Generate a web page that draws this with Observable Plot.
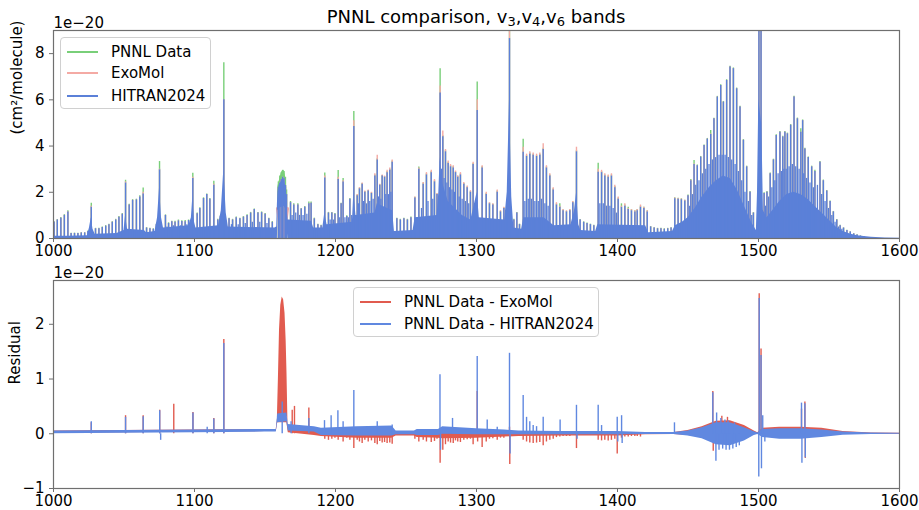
<!DOCTYPE html>
<html><head><meta charset="utf-8">
<script src="https://cdn.jsdelivr.net/npm/d3@7"></script>
<script src="https://cdn.jsdelivr.net/npm/@observablehq/plot@0.6"></script>
<style>
body{margin:0;background:#fff;font-family:"DejaVu Sans",sans-serif;}
#wrap{position:relative;width:919px;height:510px;overflow:hidden}
#wrap svg{display:block}
.title{position:absolute;left:53px;width:846px;top:6px;text-align:center;font-size:18px;color:#000;line-height:21px}
.title sub{font-size:13px;vertical-align:-3px;line-height:0}
.legend{position:absolute;background:rgba(255,255,255,0.85);border:1px solid #d0d0d0;border-radius:4px;font-size:15px;color:#000;box-sizing:border-box}
.row{position:absolute;left:0;height:22px;display:flex;align-items:center;white-space:nowrap}
.row i{display:inline-block;width:31px;height:2px;margin:0 13px 0 6px}
</style></head>
<body><div id="wrap">
<div class="title">PNNL comparison, v<sub>3</sub>,v<sub>4</sub>,v<sub>6</sub> bands</div>
</div>
<script>
// ---------- axis ticks ----------
const xTicks = [1000, 1100, 1200, 1300, 1400, 1500, 1600];
const topYTicks = [0, 2, 4, 6, 8];
const resYTicks = [-1, 0, 1, 2];

// ---------- colours ----------
const GREEN = "#79cf79", PINK = "#f4aaa4", BLUE = "#5b80d8";
const RRED = "#e15b4f", RBLUE = "#6088e0";

// ---------- top panel: strong lines (cm^-1, cross sections in 1e-20) ----------
const peakNu = [1000.4,1002.7,1005.2,1007.7,1010.2,1012.5,1014.9,1017.3,1019.7,1022.1,1024.4,1026.8,1029.8,1032.2,1034.6,1037.0,1039.3,1041.7,1044.1,1046.4,1048.8,1051.1,1053.7,1056.1,1058.8,1061.2,1063.6,1066.0,1068.4,1070.8,1073.0,1075.2,1079.4,1081.6,1083.9,1086.2,1088.6,1091.0,1093.4,1095.8,1098.8,1101.9,1103.8,1106.4,1108.7,1110.9,1113.7,1116.5,1118.4,1120.8,1124.5,1127.0,1129.6,1132.2,1134.7,1137.3,1139.8,1142.4,1145.0,1147.6,1150.1,1152.7,1155.2,1159.5,1160.5,1161.5,1162.5,1163.5,1164.5,1165.3,1168.1,1170.4,1173.3,1175.7,1178.2,1181.1,1182.7,1185.0,1187.5,1189.8,1192.4,1195.0,1197.4,1199.6,1201.9,1204.0,1205.4,1208.0,1210.2,1213.0,1215.4,1217.0,1218.9,1220.8,1223.2,1225.5,1227.9,1229.6,1231.4,1233.1,1234.8,1236.6,1238.5,1240.2,1243.5,1246.0,1248.5,1251.0,1253.5,1256.3,1259.1,1262.2,1264.5,1267.9,1270.2,1272.0,1274.2,1276.1,1278.0,1279.9,1281.6,1283.5,1285.1,1286.7,1288.6,1291.0,1293.4,1295.7,1297.6,1300.5,1304.0,1306.9,1309.2,1311.6,1314.7,1317.0,1319.4,1321.5,1323.4,1326.5,1328.6,1330.5,1333.1,1335.5,1337.8,1340.2,1342.6,1344.9,1347.3,1349.6,1352.0,1354.4,1356.7,1359.1,1361.4,1363.8,1366.2,1368.3,1370.9,1373.5,1376.0,1378.4,1380.8,1383.2,1386.3,1388.7,1391.0,1393.4,1395.7,1398.1,1400.5,1402.8,1405.2,1407.6,1409.9,1412.3,1414.0,1416.3,1418.7,1421.1,1423.5,1426.0,1428.4,1430.8,1433.2,1435.6,1438.0,1440.6,1443.0,1445.3,1447.7,1450.0,1452.0,1454.3,1456.6,1459.0,1461.4,1463.7,1466.1,1468.4,1470.8,1473.2,1475.1,1477.4,1479.8,1482.2,1484.5,1486.9,1489.3,1491.6,1494.0,1496.4,1500.3,1501.8,1504.0,1506.0,1508.3,1510.6,1512.6,1515.2,1517.2,1518.7,1520.5,1522.8,1525.2,1527.6,1530.0,1531.3,1532.9,1535.3,1537.7,1540.0,1543.6,1546.0,1548.4,1550.8,1553.1,1555.5,1557.9,1560.3,1562.7,1565.1,1567.5,1569.9,1572.3,1574.7];
const peakHitran = [0.70,0.80,0.88,1.00,1.15,0.22,0.22,0.22,0.24,0.24,0.30,1.35,0.42,0.42,0.48,0.53,0.60,0.70,0.80,0.92,1.05,2.40,1.45,1.65,1.67,1.80,1.93,0.45,0.42,0.40,0.60,2.97,1.00,0.65,0.72,0.70,0.76,0.74,0.72,0.78,2.60,1.07,1.30,1.73,1.90,1.70,2.30,0.80,0.95,6.00,0.85,0.80,0.90,0.85,0.92,1.00,1.10,1.25,1.10,1.12,1.05,0.85,0.70,2.20,2.40,2.55,2.65,2.60,2.30,1.90,1.55,1.45,1.45,1.28,1.35,1.50,1.52,0.85,0.60,0.55,2.62,1.10,1.10,1.05,2.55,1.50,2.45,0.95,1.70,4.85,1.85,2.15,2.35,2.00,2.05,1.95,2.70,3.40,2.30,2.70,2.65,2.85,2.95,3.30,0.85,0.80,0.85,0.80,0.90,1.75,3.00,2.35,2.75,2.85,2.45,1.90,6.30,4.40,3.75,3.25,3.10,3.05,2.85,2.65,2.75,2.35,2.20,2.00,3.20,5.54,3.05,1.90,1.50,1.45,2.00,1.15,1.30,1.50,8.65,0.80,1.10,0.60,3.73,3.55,3.65,3.60,3.55,3.60,3.85,3.05,2.70,2.10,1.45,1.35,1.20,1.15,1.20,1.55,3.75,0.80,0.70,0.65,0.60,0.55,2.87,2.85,2.70,2.65,2.70,2.20,1.70,1.35,1.40,1.25,1.20,1.15,1.20,1.35,1.30,1.15,0.50,0.45,0.42,0.42,0.40,0.42,0.45,1.72,1.70,1.68,1.62,1.85,2.50,3.20,3.15,3.52,4.02,4.30,4.50,5.18,6.12,6.62,5.90,6.84,7.42,7.35,6.48,5.69,4.25,3.10,2.00,1.10,12,12,1.95,2.00,2.80,3.40,4.46,4.60,4.39,4.60,4.53,4.90,6.12,5.18,4.60,5.10,3.87,3.50,3.10,2.90,3.30,2.50,2.05,1.60,1.15,0.80,0.55,0.45,0.35,0.28,0.20,0.15,0.10,0.07];
const peakPnnl = [0.72,0.82,0.91,1.03,1.20,0.23,0.23,0.23,0.25,0.25,0.32,1.52,0.44,0.44,0.50,0.56,0.62,0.72,0.83,0.95,1.08,2.52,1.48,1.68,1.70,1.85,2.19,0.47,0.44,0.42,0.62,3.33,1.02,0.68,0.75,0.75,0.80,0.77,0.78,0.80,2.82,1.10,1.33,1.76,1.93,1.73,2.48,0.83,0.98,7.60,0.88,0.83,0.93,0.88,0.95,1.03,1.13,1.28,1.13,1.15,1.08,0.88,0.73,2.45,2.70,2.85,2.95,2.90,2.65,2.10,1.60,1.50,1.50,1.30,1.38,1.58,1.58,0.88,0.62,0.57,2.83,1.13,1.13,1.08,2.94,1.53,2.60,0.98,1.73,5.50,1.88,2.18,2.38,2.03,2.08,1.98,2.75,3.45,2.33,2.73,2.68,2.90,3.00,3.35,0.88,0.83,0.88,0.83,0.93,1.78,3.09,2.40,2.80,2.90,2.50,1.93,7.35,4.45,3.80,3.30,3.15,3.10,2.88,2.68,2.80,2.38,2.23,2.03,3.25,6.77,3.10,1.95,1.53,1.48,2.05,1.18,1.33,1.53,9.30,0.83,1.13,0.62,4.29,3.60,3.70,3.65,3.60,3.65,3.90,3.10,2.75,2.15,1.50,1.50,1.23,1.18,1.23,1.58,3.80,0.82,0.72,0.67,0.62,0.57,3.26,2.90,2.75,2.70,2.75,2.25,1.75,1.50,1.45,1.35,1.25,1.20,1.25,1.40,1.35,1.20,0.52,0.47,0.44,0.44,0.42,0.44,0.47,1.76,1.74,1.72,1.66,1.88,2.55,3.37,3.18,3.55,4.05,4.33,4.67,5.20,6.15,6.65,5.93,6.87,7.45,7.38,6.51,5.72,4.28,3.13,2.03,1.12,12,12,1.98,2.03,2.83,3.43,4.49,4.63,4.42,4.63,4.56,4.93,6.15,5.21,4.75,5.13,3.90,3.53,3.13,2.95,3.33,2.53,2.08,1.62,1.17,0.82,0.57,0.46,0.36,0.29,0.21,0.16,0.11,0.08];
const peakExomol = [0.70,0.80,0.88,1.00,1.16,0.22,0.22,0.22,0.24,0.24,0.30,1.40,0.42,0.42,0.48,0.53,0.60,0.70,0.80,0.92,1.05,2.45,1.45,1.65,1.67,1.80,2.00,0.45,0.42,0.40,0.60,3.00,1.00,0.65,0.72,0.70,0.76,0.74,0.72,0.78,2.65,1.07,1.30,1.73,1.90,1.70,2.35,0.80,0.95,6.00,0.85,0.80,0.90,0.85,0.92,1.00,1.10,1.25,1.10,1.12,1.05,0.85,0.70,2.20,2.40,2.55,2.65,2.60,2.30,1.90,1.55,1.45,1.45,1.28,1.35,1.50,1.52,0.85,0.60,0.55,2.70,1.10,1.10,1.05,2.65,1.50,2.50,0.95,1.70,5.10,1.90,2.20,2.40,2.05,2.10,2.00,2.80,3.60,2.35,2.75,2.70,2.95,3.05,3.40,0.85,0.80,0.85,0.80,0.90,1.80,3.05,2.42,2.85,2.95,2.55,1.95,6.60,4.65,3.85,3.35,3.20,3.15,2.92,2.72,2.85,2.42,2.27,2.07,3.30,6.00,3.15,2.00,1.55,1.50,2.10,1.20,1.35,1.55,9.10,0.80,1.10,0.60,3.95,3.65,3.75,3.70,3.65,3.70,4.10,3.15,2.80,2.20,1.55,1.40,1.25,1.20,1.25,1.60,3.95,0.80,0.70,0.65,0.60,0.55,3.00,2.95,2.80,2.75,2.80,2.30,1.80,1.40,1.50,1.30,1.25,1.20,1.25,1.45,1.35,1.20,0.50,0.45,0.42,0.42,0.40,0.42,0.45,1.75,1.73,1.71,1.65,1.85,2.52,3.22,3.15,3.52,4.02,4.30,4.52,5.18,6.12,6.62,5.90,6.84,7.42,7.35,6.48,5.69,4.25,3.10,2.00,1.10,12,12,1.95,2.00,2.80,3.40,4.46,4.60,4.39,4.60,4.53,4.90,6.12,5.18,4.60,5.10,3.87,3.50,3.10,2.90,3.30,2.50,2.05,1.60,1.15,0.80,0.55,0.45,0.35,0.28,0.20,0.15,0.10,0.07];

// weaker lines filling the dense bands (same in all three data sets)
const minorNu = [1080.5,1085.0,1090.0,1094.6,1126.2,1131.0,1136.0,1141.0,1146.3,1151.4,1169.2,1171.8,1174.5,1177.0,1179.7,1196.2,1198.5,1203.0,1206.7,1209.1,1211.5,1216.2,1219.8,1222.0,1224.3,1226.7,1230.5,1232.2,1235.7,1237.5,1239.3,1261.0,1265.6,1269.0,1275.2,1277.0,1279.0,1280.8,1282.6,1284.3,1287.7,1289.8,1292.2,1294.5,1298.8,1334.3,1336.7,1339.0,1341.4,1343.8,1346.1,1348.5,1350.8,1387.5,1389.9,1392.2,1394.6,1396.9,1399.3,1451.2,1453.2,1455.5,1457.8,1460.2,1462.6,1464.9,1467.3,1469.6,1472.0,1474.2,1476.3,1478.6,1481.0,1483.4,1485.7,1488.1,1490.4,1492.8,1495.2,1505.0,1507.2,1509.5,1511.6,1513.9,1516.2,1518.0,1519.6,1521.7,1524.0,1526.4,1528.8,1532.1,1534.1,1536.5,1538.9,1541.8,1544.8,1547.2,1549.6,1552.0,1554.3,1556.7,1559.1];
const minorH = [0.50,0.55,0.55,0.60,0.60,0.60,0.65,0.70,0.70,0.65,1.00,1.10,1.00,1.00,1.05,0.80,0.80,0.90,0.90,0.90,1.00,1.50,1.60,1.50,1.60,1.70,1.80,1.70,1.90,1.90,2.00,1.30,1.60,1.70,3.00,2.60,2.40,2.20,2.10,2.00,1.80,1.70,1.60,1.50,1.50,1.60,1.70,1.70,1.60,1.60,1.70,1.50,1.40,1.50,1.50,1.40,1.40,1.30,1.10,1.40,1.90,2.30,2.50,2.80,3.00,3.20,3.40,3.50,3.60,3.60,3.60,3.50,3.40,3.20,2.90,2.50,2.00,1.60,1.00,1.40,1.80,2.20,2.50,2.80,2.90,3.00,3.00,3.10,3.20,3.10,3.00,2.80,2.60,2.40,2.20,2.30,1.90,1.60,1.30,1.00,0.70,0.50,0.40];

// dense (unresolved) part of the HITRAN spectrum: lower / upper edge
const bodyNu = [1000,1010,1024,1025.5,1026.8,1028,1029.5,1045,1050,1051.1,1052.5,1064.5,1066,1072,1073.8,1075.2,1076.6,1078,1096,1097.8,1098.8,1100,1101,1117,1119,1120.8,1122.5,1124,1157,1158.3,1158.8,1159.2,1160,1162,1163.5,1164.5,1165.3,1165.8,1166.3,1167,1183,1184.5,1191,1192.4,1194,1212,1213,1214.5,1228,1229.6,1240.5,1241.8,1255,1256.5,1272,1273.3,1274.2,1275.5,1280,1290,1296,1300.5,1302,1320,1321.8,1323.4,1325,1326.5,1332,1333.5,1348,1355,1367,1369.5,1371,1372.5,1374,1384.5,1386,1420,1422,1439,1441,1446,1450,1455,1460,1465,1470,1475,1480,1485,1490,1495,1498.5,1499.3,1500.2,1502.2,1502.8,1503.5,1506,1510,1515,1520,1525,1530,1535,1540,1545,1550,1555,1560,1565,1570,1580,1590,1600];
const bodyLo = [0,0,0,0,0,0,0,0,0,0,0,0,0,0,0,0,0,0,0,0,0,0,0,0,0,0,0,0,0,0,0,1.2,1.3,1.35,1.4,1.3,1.0,0.3,0,0,0,0,0,0,0,0,0,0,0,0,0,0,0,0,0,0,0,0,0,0,0,0,0,0,0,0,0,0,0,0,0,0,0,0,0,0,0,0,0,0,0,0,0,0,0,0,0,0,0,0,0,0,0,0,0,0,0,0,0,0,0,0,0,0,0,0,0,0,0,0,0,0,0,0,0,0,0];
const bodyHi = [0.10,0.10,0.12,0.45,0.90,0.40,0.18,0.22,0.35,1.00,0.40,0.35,0.25,0.30,0.90,2.20,0.90,0.45,0.55,0.90,1.80,0.70,0.45,0.55,1.20,3.00,1.10,0.50,0.45,0.50,1.50,2.00,2.30,2.50,2.55,2.30,1.90,1.20,0.80,0.80,0.75,0.45,0.45,1.10,0.60,0.70,2.00,1.00,1.10,1.50,1.20,0.30,0.35,0.90,1.00,2.00,3.50,2.50,1.60,1.00,0.80,2.00,0.90,0.80,2.00,6.00,1.80,0.45,0.40,0.90,0.90,0.55,0.60,1.20,2.00,0.60,0.35,0.30,0.60,0.55,0.25,0.30,0.55,0.70,0.90,1.30,1.80,2.20,2.50,2.70,2.60,2.10,1.40,0.70,0.35,2.00,6.00,5.00,3.50,1.20,0.90,1.20,1.60,1.90,2.00,1.90,1.70,1.40,1.10,0.80,0.50,0.30,0.20,0.12,0.05,0.02,0.01];

// 1160 cm^-1 feature: PNNL envelope and the ExoMol dip
const pnnlBlobNu = [1159.0,1160.5,1162.0,1163.5,1164.5,1165.5];
const pnnlBlobLo = [1.30,1.40,1.50,1.50,1.40,1.20];
const pnnlBlobHi = [2.20,2.60,2.90,2.95,2.70,2.20];
const exoDipNu = [1158.8,1159.5,1160.5,1161.5,1162.3,1163.0,1163.8,1164.6,1165.4,1166.0];
const exoDipY = [1.30,1.00,0.60,0.35,0.22,0.20,0.30,0.60,1.00,1.30];

// ---------- residual panel ----------
const resNu = [1000,1050,1100,1150,1158,1159,1165.5,1166.5,1185,1190,1215,1240,1243,1256,1258,1273,1276,1300,1320,1330,1360,1400,1420,1440,1450,1460,1470,1480,1490,1497,1499.5,1503,1515,1530,1545,1560,1580,1600];
const resHitLo = [0.00,0.01,0.02,0.03,0.03,0.20,0.22,0.05,0.03,-0.03,-0.04,-0.04,-0.02,-0.02,-0.03,-0.03,-0.01,-0.02,-0.02,-0.02,-0.02,-0.02,-0.015,-0.015,-0.04,-0.09,-0.20,-0.22,-0.13,-0.03,-0.015,-0.07,-0.10,-0.10,-0.07,-0.025,-0.015,-0.01];
const resHitHi = [0.05,0.06,0.07,0.08,0.08,0.36,0.38,0.17,0.13,0.10,0.13,0.14,0.05,0.05,0.08,0.08,0.13,0.09,0.07,0.05,0.04,0.04,0.025,0.025,0.05,0.11,0.20,0.20,0.11,0.035,0.015,0.08,0.09,0.09,0.07,0.03,0.015,0.01];
const resExoLo = [0.01,0.02,0.03,0.04,0.04,0.20,0.20,0.02,-0.03,-0.05,-0.08,-0.08,-0.04,-0.04,-0.07,-0.08,-0.09,-0.08,-0.06,-0.05,-0.04,-0.04,-0.02,-0.015,-0.03,-0.05,-0.09,-0.09,-0.05,-0.02,0.00,-0.03,-0.03,-0.03,-0.02,-0.015,-0.01,-0.01];
const resExoHi = [0.05,0.06,0.07,0.08,0.08,0.30,0.30,0.15,0.10,0.06,0.04,0.03,0.02,0.02,0.01,0.01,0.01,0.01,0.01,0.01,0.01,0.01,0.02,0.025,0.06,0.13,0.23,0.24,0.15,0.05,0.02,0.10,0.12,0.12,0.10,0.04,0.015,0.01];

const exoBlobNu = [1158.8,1159.5,1160.3,1161.2,1162.2,1163.2,1164.2,1165.0,1165.6,1166.2];
const exoBlobLo = [0.30,0.30,0.32,0.34,0.35,0.35,0.34,0.32,0.30,0.20];
const exoBlobHi = [0.30,1.00,1.90,2.35,2.50,2.45,2.20,1.70,1.10,0.30];

const resHitNu = [1026.8,1051.1,1063.6,1075.3,1076.0,1098.9,1109.0,1113.7,1120.8,1162.2,1168.5,1181.1,1192.2,1196.9,1201.7,1205.4,1213.0,1229.6,1240.2,1274.1,1274.5,1283.0,1300.5,1307.6,1314.7,1323.4,1323.8,1333.1,1335.5,1337.8,1340.2,1342.6,1347.3,1359.3,1370.9,1371.3,1386.3,1388.7,1399.8,1400.2,1402.9,1403.3,1440.4,1467.6,1469.8,1470.3,1472.0,1473.3,1474.6,1476.2,1477.0,1478.4,1479.4,1481.8,1483.0,1484.2,1486.4,1500.5,1500.2,1501.8,1502.1,1503.0,1504.5,1530.5,1530.8,1532.9,1533.2];
const resHitVal = [0.22,0.30,0.31,0.42,-0.12,0.38,0.12,0.27,1.65,0.58,0.22,0.28,0.24,0.33,0.42,0.22,0.79,0.22,0.16,1.08,-0.30,0.28,1.41,0.25,0.12,1.47,-0.37,0.70,0.30,0.22,0.15,0.13,0.30,0.25,0.52,-0.10,0.52,0.15,0.30,-0.15,0.33,-0.18,0.20,0.75,-0.50,0.38,-0.30,0.28,-0.28,0.25,-0.30,0.24,-0.30,-0.28,0.20,-0.25,-0.22,2.47,-0.79,1.43,-0.64,0.33,-0.15,0.56,-0.54,0.55,-0.44];

const resExoNu = [1026.8,1051.1,1063.6,1075.3,1085.3,1098.9,1113.7,1120.8,1169.3,1170.9,1181.1,1192.4,1195.0,1197.4,1199.6,1201.9,1205.4,1208.0,1210.2,1213.0,1215.4,1217.0,1218.9,1220.8,1223.2,1225.5,1227.9,1229.6,1231.4,1233.1,1234.8,1236.6,1238.5,1240.2,1256.3,1259.1,1262.2,1264.5,1267.9,1270.2,1272.0,1274.2,1276.1,1278.0,1279.9,1281.6,1283.5,1285.1,1286.7,1288.6,1291.0,1293.4,1295.7,1297.6,1300.5,1300.8,1304.0,1306.9,1309.2,1311.6,1314.7,1317.0,1319.4,1323.4,1323.6,1333.1,1335.5,1337.8,1340.2,1342.6,1344.9,1347.3,1349.6,1352.0,1354.4,1356.7,1359.1,1361.4,1363.8,1366.2,1370.9,1386.3,1388.7,1391.0,1393.4,1395.7,1398.1,1399.8,1402.8,1405.2,1407.6,1409.9,1412.3,1414.0,1416.3,1467.6,1467.9,1474.0,1478.0,1500.5,1501.8,1530.5,1532.9,1533.2];
const resExoVal = [0.20,0.33,0.33,0.43,0.54,0.39,0.28,1.72,0.43,0.50,0.47,-0.10,-0.12,-0.10,-0.08,-0.12,-0.15,-0.08,-0.12,-0.27,-0.12,-0.15,-0.18,-0.12,-0.15,-0.13,-0.18,-0.20,-0.14,-0.17,-0.16,-0.18,-0.17,-0.19,-0.10,-0.15,-0.12,-0.15,-0.16,-0.14,-0.10,-0.54,-0.30,-0.20,-0.15,-0.17,-0.18,-0.13,-0.15,-0.16,-0.12,-0.11,-0.10,-0.20,0.77,-0.15,-0.25,-0.15,-0.10,-0.09,-0.12,-0.08,-0.08,0.12,-0.56,-0.12,-0.15,-0.17,-0.18,-0.17,-0.16,-0.22,-0.15,-0.12,-0.10,-0.07,-0.06,-0.05,-0.05,-0.05,-0.27,-0.12,-0.13,-0.12,-0.13,-0.12,-0.10,-0.37,-0.08,-0.06,-0.06,-0.05,-0.05,-0.05,-0.06,0.77,-0.32,0.32,0.30,2.56,1.55,0.45,0.58,-0.45];

// ---------- build tables ----------
const peaks = peakNu.map((nu, i) => ({nu, h: peakHitran[i], p: peakPnnl[i], e: peakExomol[i]}));
const minors = minorNu.map((nu, i) => ({nu, h: minorH[i]}));
const body = bodyNu.map((nu, i) => ({nu, lo: bodyLo[i], hi: bodyHi[i]}));
const pBlob = pnnlBlobNu.map((nu, i) => ({nu, lo: pnnlBlobLo[i], hi: pnnlBlobHi[i]}));
const eDip = exoDipNu.map((nu, i) => ({nu, y: exoDipY[i]}));
const resBand = resNu.map((nu, i) => ({nu, hl: resHitLo[i], hh: resHitHi[i], el: resExoLo[i], eh: resExoHi[i]}));
const eBlob = exoBlobNu.map((nu, i) => ({nu, lo: exoBlobLo[i], hi: exoBlobHi[i]}));
const rHit = resHitNu.map((nu, i) => ({nu, v: resHitVal[i]}));
const rExo = resExoNu.map((nu, i) => ({nu, v: resExoVal[i]}));

const fmt = d => d < 0 ? "\u2212" + Math.abs(d) : String(d);
const AX = "#6f6f6f";
const common = {
  width: 919, marginLeft: 53, marginRight: 20,
  x: {domain: [1000, 1600]},
  style: {fontFamily: "DejaVu Sans", fontSize: "15px", color: "#000", background: "transparent", overflow: "visible"}
};

const topPlot = Plot.plot({
  ...common, height: 260, marginTop: 30, marginBottom: 22,
  y: {domain: [0, 9]},
  marks: [
    Plot.areaY(pBlob, {x: "nu", y1: "lo", y2: "hi", fill: GREEN, curve: "linear", clip: true}),
    Plot.ruleX(peaks, {x: "nu", y1: 0, y2: "p", stroke: GREEN, strokeWidth: 1.4, clip: true}),
    Plot.ruleX(peaks, {x: "nu", y1: 0, y2: "e", stroke: PINK, strokeWidth: 1.4, clip: true}),
    Plot.line(eDip, {x: "nu", y: "y", stroke: PINK, strokeWidth: 3, curve: "linear", clip: true}),
    Plot.areaY(body, {x: "nu", y1: "lo", y2: "hi", fill: BLUE, curve: "linear", clip: true}),
    Plot.ruleX(minors, {x: "nu", y1: 0, y2: "h", stroke: BLUE, strokeWidth: 1.3, clip: true}),
    Plot.ruleX(peaks, {x: "nu", y1: 0, y2: "h", stroke: BLUE, strokeWidth: 1.4, clip: true}),
    Plot.axisX({ticks: xTicks, tickSize: 4, tickPadding: 3, label: null, stroke: AX, fontSize: 15, tickFormat: fmt}),
    Plot.axisY({ticks: topYTicks, tickSize: 4, tickPadding: 5, label: null, stroke: AX, fontSize: 15, tickFormat: fmt}),
    Plot.text(["1e\u221220"], {frameAnchor: "top-left", textAnchor: "start", lineAnchor: "bottom", dy: -3, fontSize: 15}),
    Plot.text(["(cm\u00b2/molecule)"], {frameAnchor: "left", dx: -36, rotate: -90, fontSize: 15}),
    Plot.frame({stroke: AX, strokeWidth: 1.2})
  ]
});

const resPlot = Plot.plot({
  ...common, height: 250, marginTop: 20, marginBottom: 22,
  y: {domain: [-1, 2.8]},
  marks: [
    Plot.areaY(resBand, {x: "nu", y1: "el", y2: "eh", fill: RRED, curve: "linear"}),
    Plot.areaY(eBlob, {x: "nu", y1: "lo", y2: "hi", fill: RRED, curve: "linear"}),
    Plot.ruleX(rExo, {x: "nu", y1: 0, y2: "v", stroke: RRED, strokeWidth: 1.4}),
    Plot.areaY(resBand, {x: "nu", y1: "hl", y2: "hh", fill: RBLUE, curve: "linear"}),
    Plot.ruleX(rHit, {x: "nu", y1: 0, y2: "v", stroke: RBLUE, strokeWidth: 1.4}),
    Plot.axisX({ticks: xTicks, tickSize: 4, tickPadding: 3, label: null, stroke: AX, fontSize: 15, tickFormat: fmt}),
    Plot.axisY({ticks: resYTicks, tickSize: 4, tickPadding: 5, label: null, stroke: AX, fontSize: 15, tickFormat: fmt}),
    Plot.text(["1e\u221220"], {frameAnchor: "top-left", textAnchor: "start", lineAnchor: "bottom", dy: -3, fontSize: 15}),
    Plot.text(["Residual"], {frameAnchor: "left", dx: -38, rotate: -90, fontSize: 15}),
    Plot.frame({stroke: AX, strokeWidth: 1.2})
  ]
});

const wrap = document.getElementById("wrap");
wrap.appendChild(topPlot);
wrap.appendChild(resPlot);

function legend(left, top, w, h, items, rowTops) {
  const box = document.createElement("div");
  box.className = "legend";
  Object.assign(box.style, {left: left + "px", top: top + "px", width: w + "px", height: h + "px"});
  items.forEach(([label, color], i) => {
    const r = document.createElement("div");
    r.className = "row";
    r.style.top = rowTops[i] + "px";
    const sw = document.createElement("i");
    sw.style.background = color;
    r.appendChild(sw);
    r.appendChild(document.createTextNode(label));
    box.appendChild(r);
  });
  wrap.appendChild(box);
}
legend(60, 37, 151, 72, [["PNNL Data", GREEN], ["ExoMol", PINK], ["HITRAN2024", BLUE]], [3, 24, 47]);
legend(353, 287, 246, 50, [["PNNL Data - ExoMol", RRED], ["PNNL Data - HITRAN2024", RBLUE]], [3, 25]);
</script>
</body></html>
